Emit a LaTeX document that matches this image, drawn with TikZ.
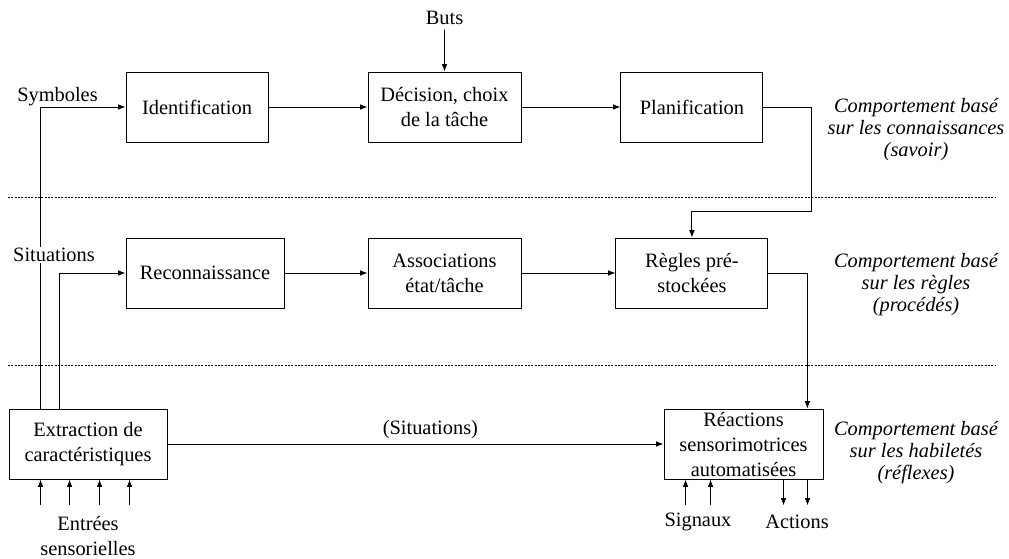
\documentclass[tikz,border=0pt]{standalone}
\usepackage{fontspec}
\setmainfont{Liberation Serif}
\usetikzlibrary{arrows.meta,calc,positioning}

\tikzset{
  block/.style={draw, rectangle, inner sep=0pt, minimum height=52.5pt, align=center},
  level/.style={font=\fontsize{15.3}{16.5}\selectfont\itshape, align=center},
  sep line/.style={line width=0.6pt, dash pattern=on 1.6pt off 0.9pt},
}

\begin{document}
\begin{tikzpicture}[x=0.75pt, y=-0.75pt, >={Latex[length=5.5pt,width=4.2pt]}, line width=0.7pt, node distance=185.6pt, font=\fontsize{15.3}{18.75}\selectfont]
    \useasboundingbox (0,0) rectangle (1009,558);

    % separations entre niveaux
    \draw[sep line] (8,197) -- (995,197);
    \draw[sep line] (8,365) -- (995,365);

    \node[block, minimum width=106.5pt]   (ident)    at (197,107)       {Identification};
    \node[block, minimum width=114.75pt]  (dec)      [right of=ident]   {Décision, choix\\de la tâche};
    \node[block, minimum width=106.5pt]   (plan)     [right of=dec]     {Planification};
    \node                                 (buts)     at (444.5,18)      {Buts};
    \node[block, minimum width=118.5pt]   (reco)     at (205,273)       {Reconnaissance};
    \node[block, minimum width=114.75pt]  (assoc)    [below of=dec, node distance=124.5pt]  {Associations\\état/tâche};
    \node[block, minimum width=114pt]     (regles)   [below of=plan, node distance=124.5pt] {Règles pré-\\stockées};
    \node[block, minimum width=118.5pt]   (extr)     at (88,444)        {Extraction de\\caractéristiques};
    \node[block, minimum width=119.25pt]  (reac)     at (743.5,444)     {Réactions\\sensorimotrices\\automatisées};

    \path[->]   (ident)  edge  (dec)
                (dec)    edge  (plan)
                (buts)   edge  (dec)
                (reco)   edge  (assoc)
                (assoc)  edge  (regles)
                (extr)   edge  node[above, pos=0.53] {(Situations)} (reac);

    \draw[->] (plan.east) -- ++(48,0) -- ++(0,104.5) -| (regles.north);
    \draw[->] (regles.east) -- ++(39,0) coordinate (r) -- (r |- reac.north);
    \draw[->] ($(extr.north west)+(32,0)$) |- (ident.west);
    \draw[->] ($(extr.north west)+(51,0)$) |- (reco.west);

    \node                                 (sym)      at (57.5,97)       {Symboles};
    \node[fill=white, inner sep=1pt]      (sit)      at (54,255)        {Situations};

    % entrees et sorties
    \foreach \dx in {32,61,91,121}
        \draw[<-] ($(extr.south west)+(\dx,0)$) -- ++(0,26);
    \foreach \dx in {22,47}
        \draw[<-] ($(reac.south west)+(\dx,0)$) -- ++(0,26);
    \foreach \dx in {120,144}
        \draw[->] ($(reac.south west)+(\dx,0)$) -- ++(0,26);
    \node[align=center]                   (entrees)  at (88,536)        {Entrées\\sensorielles};
    \node                                 (sig)      at (698,522)       {Signaux};
    \node                                 (act)      at (797,522)       {Actions};

    \node[level] (savoir)   at (916,130) {Comportement basé\\sur les connaissances\\(savoir)};
    \node[level] (procedes) at (916,285) {Comportement basé\\sur les règles\\(procédés)};
    \node[level] (reflexes) at (916,453) {Comportement basé\\sur les habiletés\\(réflexes)};
\end{tikzpicture}
\end{document}
